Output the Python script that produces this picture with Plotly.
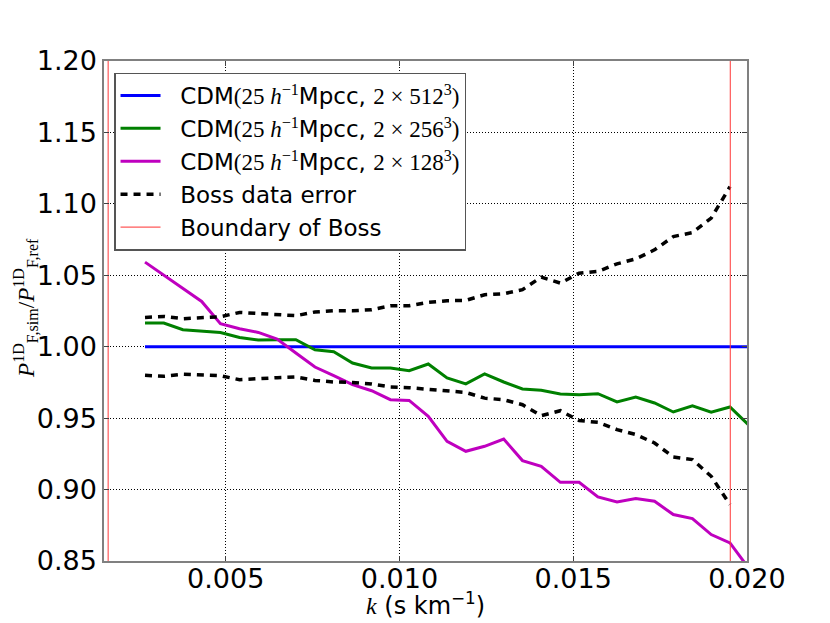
import plotly.graph_objects as go

# ---- data ----
k = [0.00268, 0.00322, 0.00377, 0.00431, 0.00485, 0.00540, 0.00594, 0.00648,
     0.00702, 0.00757, 0.00811, 0.00865, 0.00920, 0.00974, 0.01028, 0.01083,
     0.01137, 0.01191, 0.01245, 0.01300, 0.01354, 0.01408, 0.01463, 0.01517,
     0.01571, 0.01626, 0.01680, 0.01734, 0.01788, 0.01843, 0.01897, 0.01951,
     0.02006]

cdm512 = [1.0] * 33

cdm256 = [1.0166, 1.0166, 1.0119, 1.0107, 1.0100, 1.0065, 1.0047, 1.0049,
          1.0049, 0.9979, 0.9965, 0.9886, 0.9851, 0.9851, 0.9832, 0.9879,
          0.9781, 0.9740, 0.9810, 0.9753, 0.9704, 0.9695, 0.9669, 0.9664,
          0.9671, 0.9613, 0.9648, 0.9606, 0.9543, 0.9587, 0.9541, 0.9578,
          0.9449]

cdm128 = [1.0592, 1.0503, 1.0410, 1.0317, 1.0161, 1.0126, 1.0100, 1.0054,
          0.9956, 0.9858, 0.9797, 0.9734, 0.9692, 0.9629, 0.9624, 0.9513,
          0.9338, 0.9268, 0.9303, 0.9354, 0.9203, 0.9163, 0.9051, 0.9051,
          0.8949, 0.8914, 0.8937, 0.8918, 0.8825, 0.8797, 0.8685, 0.8627,
          0.8446]

k_boss = k[:32]
boss_upper = [1.0205, 1.0212, 1.0196, 1.0200, 1.0210, 1.0240, 1.0231, 1.0224,
              1.0217, 1.0243, 1.0252, 1.0252, 1.0259, 1.0287, 1.0287, 1.0310,
              1.0322, 1.0324, 1.0364, 1.0371, 1.0399, 1.0487, 1.0445, 1.0515,
              1.0527, 1.0580, 1.0615, 1.0678, 1.0771, 1.0799, 1.0900, 1.1120]
boss_lower = [0.9800, 0.9793, 0.9807, 0.9800, 0.9797, 0.9769, 0.9779, 0.9783,
              0.9788, 0.9764, 0.9753, 0.9750, 0.9739, 0.9718, 0.9713, 0.9702,
              0.9685, 0.9680, 0.9640, 0.9629, 0.9594, 0.9517, 0.9552, 0.9483,
              0.9471, 0.9420, 0.9385, 0.9326, 0.9228, 0.9210, 0.9093, 0.8895]

boss_bounds = [0.00162, 0.01952]

x_range = [0.0015, 0.020]
y_range = [0.85, 1.20]
x_ticks = [0.005, 0.010, 0.015, 0.020]
x_ticklabels = ["0.005", "0.010", "0.015", "0.020"]
y_ticks = [0.85, 0.90, 0.95, 1.00, 1.05, 1.10, 1.15, 1.20]
y_ticklabels = ["0.85", "0.90", "0.95", "1.00", "1.05", "1.10", "1.15", "1.20"]

x_title = '<span style="font-family:Liberation Serif"><i>k</i></span> (s km<sup>−1</sup>)'
y_title = ("<i>P</i><sup>1D</sup><sub>F,sim</sub>/"
           "<i>P</i><sup>1D</sup><sub>F,ref</sub>")

SERIF = "Liberation Serif"
SANS = "DejaVu Sans"
PAD = "\u00a0\u00a0"


def m(s):
    return f'<span style="font-family:{SERIF}">{s}</span>'


def cdm_label(n):
    return (PAD + "CDM" + m("(25 <i>h</i><sup>−1</sup>") + "Mpcc, "
            + m(f"2 × {n}<sup>3</sup>)"))


fig = go.Figure()

fig.add_trace(go.Scatter(x=k, y=cdm512, mode="lines", name=cdm_label(512),
                         legendgroup="a",
                         line=dict(color="#0000ff", width=3)))
fig.add_trace(go.Scatter(x=k, y=cdm256, mode="lines", name=cdm_label(256),
                         legendgroup="b",
                         line=dict(color="#008000", width=3)))
fig.add_trace(go.Scatter(x=k, y=cdm128, mode="lines", name=cdm_label(128),
                         legendgroup="c",
                         line=dict(color="#bf00bf", width=3)))
fig.add_trace(go.Scatter(x=k_boss, y=boss_upper, mode="lines",
                         name=PAD + "Boss data error", legendgroup="d",
                         line=dict(color="black", width=3.5, dash="7px,6px")))
fig.add_trace(go.Scatter(x=k_boss, y=boss_lower, mode="lines",
                         name=PAD + "Boss data error", legendgroup="d",
                         showlegend=False,
                         line=dict(color="black", width=3.5, dash="7px,6px")))

bx, by = [], []
for b in boss_bounds:
    bx += [b, b, None]
    by += [y_range[0], y_range[1], None]
fig.add_trace(go.Scatter(x=bx, y=by, mode="lines",
                         name=PAD + "Boundary of Boss", legendgroup="e",
                         line=dict(color="rgba(255,60,60,0.85)", width=1.2)))

axis_common = dict(
    showline=True, linecolor="#808080", linewidth=1.5, mirror="ticks",
    ticks="inside", ticklen=5, tickcolor="#404040", tickwidth=1,
    showgrid=True, gridcolor="black", gridwidth=1, griddash="1px,2px",
    zeroline=False, automargin=False,
    tickfont=dict(family=SANS, size=27, color="black"),
)

fig.update_xaxes(range=x_range, tickvals=x_ticks, ticktext=x_ticklabels,
                 ticklabelstandoff=-7, **axis_common)
fig.update_yaxes(range=y_range, tickvals=y_ticks, ticktext=y_ticklabels,
                 **axis_common)

# axis titles placed as annotations for exact placement
fig.add_annotation(text=x_title, xref="paper", yref="paper",
                   x=0.5, y=-0.086, xanchor="center", yanchor="middle",
                   showarrow=False,
                   font=dict(family=SANS, size=24, color="black"))
fig.add_annotation(text=m(y_title), xref="paper", yref="paper",
                   x=-0.123, y=0.506, xanchor="center", yanchor="middle",
                   textangle=-90, showarrow=False,
                   font=dict(family=SERIF, size=23, color="black"))

# page body has an 8px margin: shrink the figure so the plot area lands
# where the reference has it
fig.update_layout(
    width=822, height=615,
    margin=dict(l=96, r=83, t=53, b=62),
    paper_bgcolor="white", plot_bgcolor="white",
    font=dict(family=SANS, color="black"),
    legend=dict(x=0.0156, y=0.977, xanchor="left", yanchor="top",
                bgcolor="white", bordercolor="#555555", borderwidth=1.5,
                font=dict(family=SANS, size=23, color="black"),
                tracegroupgap=0, itemwidth=40),
)

fig.write_html("out.html")
